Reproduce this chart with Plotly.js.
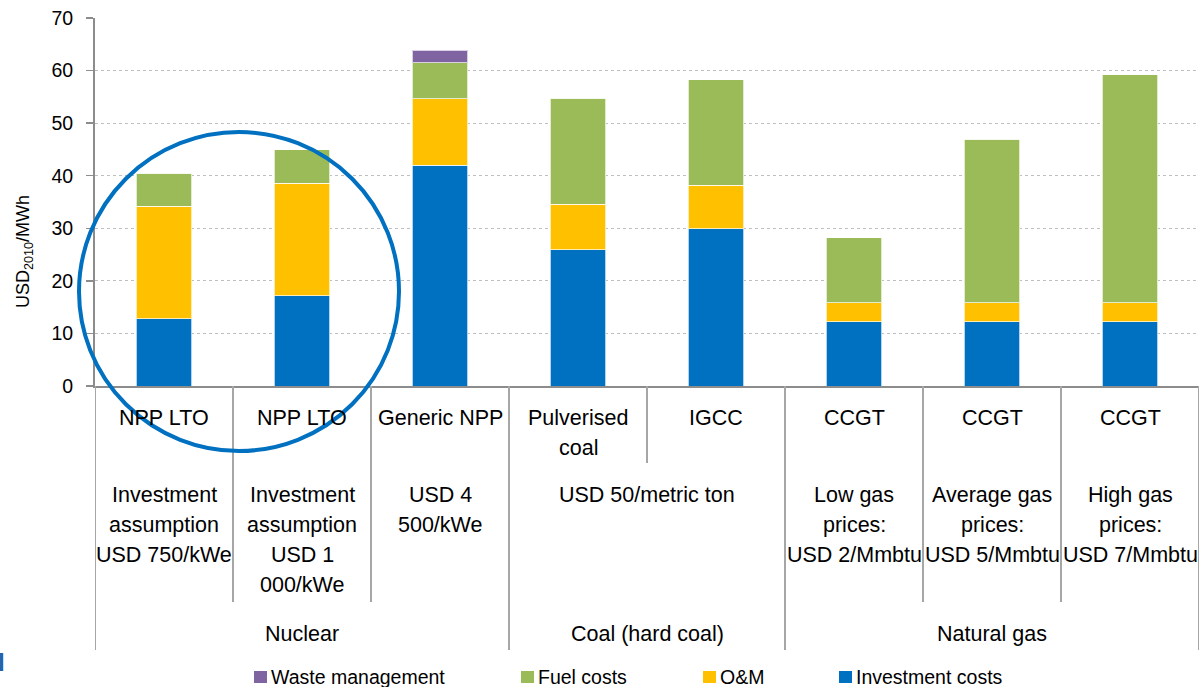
<!DOCTYPE html>
<html>
<head>
<meta charset="utf-8">
<script src="https://cdn.plot.ly/plotly-3.0.1.min.js"></script>
<style>html,body{margin:0;padding:0;background:#fff;}#chart{width:1200px;height:687px;}</style>
</head>
<body>
<div id="chart"></div>
<script>
// ---- data ----
const level1Labels = ["NPP LTO", "NPP LTO", "Generic NPP", "Pulverised<br>coal", "IGCC", "CCGT", "CCGT", "CCGT"];
const level2Labels = ["Investment<br>assumption<br>USD 750/kWe", "Investment<br>assumption<br>USD 1<br>000/kWe", "USD 4<br>500/kWe", "USD 50/metric ton", "Low gas<br>prices:<br>USD 2/Mmbtu", "Average gas<br>prices:<br>USD 5/Mmbtu", "High gas<br>prices:<br>USD 7/Mmbtu"];
const level2Spans = [[0, 0], [1, 1], [2, 2], [3, 4], [5, 5], [6, 6], [7, 7]];
const level3Labels = ["Nuclear", "Coal (hard coal)", "Natural gas"];
const level3Spans = [[0, 2], [3, 4], [5, 7]];
const investmentCosts = [12.8, 17.2, 42.0, 25.9, 29.9, 12.2, 12.2, 12.2];
const omCosts = [21.4, 21.4, 12.6, 8.7, 8.3, 3.6, 3.6, 3.6];
const fuelCosts = [6.3, 6.3, 6.9, 20.1, 20.1, 12.4, 31.1, 43.4];
const wasteManagement = [0, 0, 2.4, 0, 0, 0, 0, 0];
const seriesNames = ["Investment costs", "O&M", "Fuel costs", "Waste management"];
const seriesColors = ["#0070C0", "#FFC000", "#9BBB59", "#8064A2"];
const yTickVals = [0, 10, 20, 30, 40, 50, 60, 70];

// ---- layout helpers (pixel geometry of plot area) ----
const W = 1200, H = 687;
const M = {l: 95, r: 1, t: 18, b: 301};
const PH = H - M.t - M.b;
const PW = W - M.l - M.r;
const py = p => (H - M.b - p) / PH;  // pixel y -> paper y
const px = p => (p - M.l) / PW;      // pixel x -> paper x
const FONT = "Liberation Sans, Arial, sans-serif";
const LBL = 21.5;
const LINE_H = 30;

const xIdx = level1Labels.map((_, i) => i);
const seriesData = [investmentCosts, omCosts, fuelCosts, wasteManagement];

const traces = seriesData.map((vals, k) => ({
  type: "bar",
  x: xIdx,
  y: vals,
  name: seriesNames[k],
  marker: {color: seriesColors[k], line: {color: "rgba(255,255,255,0.7)", width: 1}},
  showlegend: false,
  hoverinfo: "y+name"
}));

const annotations = [];
const shapes = [];

// multi-line label: one annotation per line to get the reference's line pitch
function label(xc, firstCenterPx, text) {
  text.split("<br>").forEach((ln, j) => {
    annotations.push({xref: "x", yref: "paper", x: xc, y: py(firstCenterPx + j * LINE_H),
      yanchor: "middle", xanchor: "center", text: ln, showarrow: false,
      font: {family: FONT, size: LBL, color: "#000"}});
  });
}
level1Labels.forEach((t, i) => label(i, 418, t));
level2Labels.forEach((t, j) => label((level2Spans[j][0] + level2Spans[j][1]) / 2, 495, t));
level3Labels.forEach((t, j) => label((level3Spans[j][0] + level3Spans[j][1]) / 2, 634, t));

// separator lines below the axis
const sepColor = "#A6A6A6";
function vline(xv, bottomPx) {
  shapes.push({type: "line", xref: "x", yref: "paper", x0: xv, x1: xv, y0: 0, y1: py(bottomPx),
    line: {color: sepColor, width: 2}});
}
level3Spans.forEach(s => { vline(s[0] - 0.5, 650); });
vline(level3Spans[level3Spans.length - 1][1] + 0.5, 650);
level2Spans.forEach(s => {
  const b = s[1] + 0.5;
  const isGroupEdge = level3Spans.some(g => g[1] + 0.5 === b);
  if (!isGroupEdge) vline(b, 602);
});
level2Spans.forEach(s => {
  for (let i = s[0]; i < s[1]; i++) vline(i + 0.5, 463);
});

// y-axis title
annotations.push({xref: "paper", yref: "paper", x: px(24), y: py(252), xanchor: "center", yanchor: "middle",
  textangle: -90, text: "USD<sub>2010</sub>/MWh", showarrow: false, font: {family: FONT, size: 18, color: "#000"}});

// highlight circle
shapes.push({type: "circle", xref: "paper", yref: "paper", layer: "above",
  x0: px(79), x1: px(399), y0: py(451), y1: py(132),
  line: {color: "#0070C0", width: 4}, fillcolor: "rgba(0,0,0,0)"});

// custom legend (order as in reference)
const legendOrder = [3, 2, 1, 0];
const legendX = [254, 521, 703, 839];
legendOrder.forEach((k, n) => {
  shapes.push({type: "rect", xref: "paper", yref: "paper", x0: px(legendX[n]), x1: px(legendX[n] + 13),
    y0: py(683), y1: py(671), fillcolor: seriesColors[k], line: {width: 0}});
  annotations.push({xref: "paper", yref: "paper", x: px(legendX[n] + 15), y: py(677), xanchor: "left", yanchor: "middle",
    text: seriesNames[k], showarrow: false, font: {family: FONT, size: 19.5, color: "#000"}});
});

// cut-off logo letter at bottom left
annotations.push({xref: "paper", yref: "paper", x: px(7), y: py(662), xanchor: "right", yanchor: "middle",
  text: "<b>N</b>", showarrow: false, font: {family: FONT, size: 26, color: "#2462AA"}});

const layout = {
  width: W, height: H,
  margin: M,
  barmode: "stack",
  bargap: 0.6,
  paper_bgcolor: "#fff",
  plot_bgcolor: "#fff",
  showlegend: false,
  xaxis: {range: [-0.5, 7.5], showticklabels: false, showgrid: false, zeroline: false,
    showline: true, linecolor: "#8C8C8C", linewidth: 2, ticks: "", fixedrange: true},
  yaxis: {range: [0, 70], tickvals: yTickVals, ticktext: yTickVals.map(String),
    showgrid: true, gridcolor: "#BFBFBF", griddash: "dot", gridwidth: 1,
    zeroline: false, showline: true, linecolor: "#8C8C8C", linewidth: 2,
    ticks: "outside", ticklen: 7, tickcolor: "#8C8C8C", tickwidth: 1.5, ticklabelstandoff: 9,
    tickfont: {family: FONT, size: 19.5, color: "#000"}, fixedrange: true},
  annotations: annotations,
  shapes: shapes
};

Plotly.newPlot("chart", traces, layout, {displayModeBar: false, staticPlot: true});
</script>
</body>
</html>
